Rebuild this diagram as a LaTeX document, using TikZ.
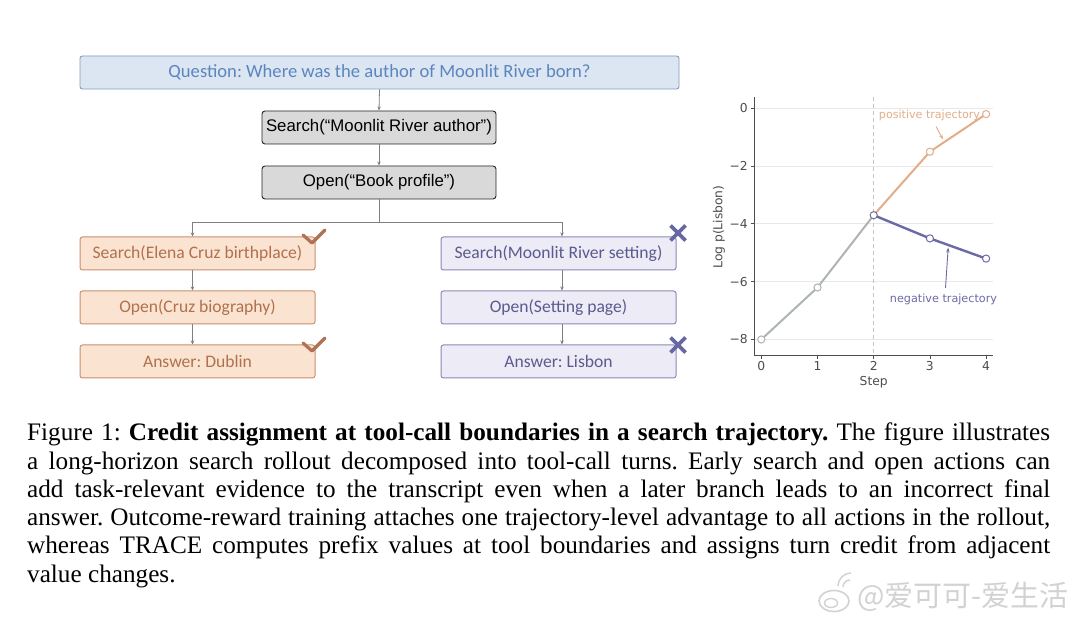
\documentclass[tikz,border=0pt]{standalone}
\usepackage{fontspec}
\setmainfont{Liberation Serif}
\newfontfamily\calib{Carlito}
\newfontfamily\arialf{Liberation Sans}
\newfontfamily\dejavu{DejaVu Sans}
\newfontfamily\cjkf{Noto Sans CJK SC}
\usetikzlibrary{arrows.meta}
\definecolor{qfill}{HTML}{DCE6F2}
\definecolor{qdraw}{HTML}{7F9CC0}
\definecolor{qtext}{HTML}{5B85BF}
\definecolor{gfill}{HTML}{D9D9D9}
\definecolor{gdraw}{HTML}{262626}
\definecolor{pfill}{HTML}{FBE3D2}
\definecolor{pdraw}{HTML}{C8906C}
\definecolor{ptext}{HTML}{B0714C}
\definecolor{lfill}{HTML}{ECEBF6}
\definecolor{ldraw}{HTML}{8C89B8}
\definecolor{ltext}{HTML}{5C5A8E}
\definecolor{agray}{HTML}{808080}
\definecolor{chk}{HTML}{AD7352}
\definecolor{xcol}{HTML}{6767A3}
\definecolor{cgray}{HTML}{AEB3B3}
\definecolor{corange}{HTML}{E2AD88}
\definecolor{cpurple}{HTML}{6C6AA6}
\definecolor{ctext}{HTML}{4D4D4D}
\definecolor{cgrid}{HTML}{E8E8E8}
\definecolor{wm}{HTML}{D2D2D2}
\tikzset{
  qbox/.style={draw=qdraw, fill=qfill, rounded corners=2.5pt, minimum width=599pt, minimum height=33pt, line width=0.9pt, text=qtext, font=\calib\fontsize{18.6}{20}\selectfont, inner sep=0pt},
  gbox/.style={draw=gdraw, fill=gfill, rounded corners=3pt, minimum width=234pt, minimum height=33pt, line width=0.9pt, font=\arialf\fontsize{16.8}{19}\selectfont, inner sep=0pt},
  pbox/.style={draw=pdraw, fill=pfill, rounded corners=2.5pt, minimum width=235pt, minimum height=33pt, line width=1pt, text=ptext, font=\calib\fontsize{17.6}{19}\selectfont, inner sep=0pt},
  lbox/.style={draw=ldraw, fill=lfill, rounded corners=2.5pt, minimum width=235pt, minimum height=33pt, line width=1pt, text=ltext, font=\calib\fontsize{17.6}{19}\selectfont, inner sep=0pt},
  conn/.style={draw=agray, line width=0.8pt, -{Stealth[length=4pt,width=3.5pt]}},
  checkm/.style={draw=chk, line width=3.2pt, line cap=round, line join=round},
  crossm/.style={draw=xcol, line width=3.6pt},
  tick/.style={font=\dejavu\fontsize{12.3}{14}\selectfont, text=ctext, inner sep=0pt},
  capline/.style={anchor=base west, inner sep=0pt, font=\fontsize{25.2}{28}\selectfont},
  mk/.style={fill=white, line width=1pt},
}
\begin{document}
\frenchspacing
\begin{tikzpicture}[x=1pt,y=-1pt]
\useasboundingbox (0,0) rectangle (1080,620);
\fill[white] (0,0) rectangle (1080,620);

% ---------- flow diagram ----------
\node[qbox] (q) at (379.5,72.5) {Question: Where was the author of Moonlit River born?};
\node[gbox] (s0) at (379,127.5) {Search(“Moonlit River author”)};
\node[gbox] (o0) at (379,182.5) {Open(“Book profile”)};

\node[pbox] (l1) at (197.5,253.5) {Search(Elena Cruz birthplace)};
\node[pbox] (l2) at (197.5,307.5) {Open(Cruz biography)};
\node[pbox] (l3) at (197.5,361.5) {Answer: Dublin};

\node[lbox] (r1) at (558.5,253.5) {Search(Moonlit River setting)};
\node[lbox] (r2) at (558.5,307.5) {Open(Setting page)};
\node[lbox] (r3) at (558.5,361.5) {Answer: Lisbon};

\draw[conn] (q.south) -- (s0.north);
\draw[conn] (s0.south) -- (o0.north);
\coordinate (br) at ([yshift=-23pt]o0.south);
\draw[draw=agray, line width=0.8pt] (o0.south) -- (br);
\draw[conn] (br) -| ([xshift=-5pt]l1.north);
\draw[conn] (br) -| ([xshift=3.5pt]r1.north);
\draw[conn] ([xshift=-5pt]l1.south) -- ([xshift=-5pt]l2.north);
\draw[conn] ([xshift=-5pt]l2.south) -- ([xshift=-5pt]l3.north);
\draw[conn] ([xshift=3.5pt]r1.south) -- ([xshift=3.5pt]r2.north);
\draw[conn] ([xshift=3.5pt]r2.south) -- ([xshift=3.5pt]r3.north);

% check marks
\draw[checkm] (303,235) -- (312,243) -- (325,230);
\draw[checkm] (303,343) -- (312,351) -- (325,338);
% crosses
\draw[crossm] (670.5,225.5) -- (685.5,240.5) (670.5,240.5) -- (685.5,225.5);
\draw[crossm] (670.5,337.5) -- (685.5,352.5) (670.5,352.5) -- (685.5,337.5);

% ---------- chart ----------
\foreach \yy in {108.3,166.1,223.9,281.7,339.5}
  \draw[cgrid, line width=0.8pt] (754.5,\yy) -- (992.5,\yy);
\draw[gray!45, dash pattern=on 4pt off 3pt, line width=0.8pt] (873.7,97) -- (873.7,355.5);
\draw[ctext, line width=0.9pt] (754.5,97) -- (754.5,355.5) -- (992.5,355.5);
\foreach \yy/\lab in {108.3/0,166.1/−2,223.9/−4,281.7/−6,339.5/−8}{
  \draw[ctext, line width=0.8pt] (751,\yy) -- (754.5,\yy);
  \node[tick, anchor=east] at (748,\yy) {\lab};
}
\foreach \xx/\lab in {761.3/0,817.5/1,873.7/2,929.9/3,986.1/4}{
  \draw[ctext, line width=0.8pt] (\xx,355.5) -- (\xx,359);
  \node[tick, anchor=north] at (\xx,361.5) {\lab};
}
\node[tick] (xl) at (873.7,382) {Step};
\node[tick, rotate=90] (yl) at (719,227) {Log p(Lisbon)};

\draw[cgray, line width=2pt] (761.3,339.5) -- (817.5,287.5) -- (873.7,215.2);
\draw[corange, line width=2pt] (873.7,215.2) -- (929.9,151.7) -- (986.1,114.1);
\draw[cpurple, line width=2.4pt] (873.7,215.2) -- (929.9,238.4) -- (986.1,258.6);
\draw[mk, draw=cgray] (761.3,339.5) circle (3.6pt);
\draw[mk, draw=cgray] (817.5,287.5) circle (3.6pt);
\draw[mk, draw=cpurple!70!gray] (873.7,215.2) circle (3.6pt);
\draw[mk, draw=corange] (929.9,151.7) circle (3.6pt);
\draw[mk, draw=corange] (986.1,114.1) circle (3.6pt);
\draw[mk, draw=cpurple] (929.9,238.4) circle (3.6pt);
\draw[mk, draw=cpurple] (986.1,258.6) circle (3.6pt);

\node[tick, text=corange, font=\dejavu\fontsize{11.1}{13}\selectfont] (pt) at (929.5,115.8) {positive trajectory};
\node[tick, text=cpurple, font=\dejavu\fontsize{11.2}{13}\selectfont] (nt) at (943.5,299) {negative trajectory};
\coordinate (pa) at (943,139.5);
\coordinate (na) at (948.2,247.5);
\draw[corange, line width=0.9pt, -{Stealth[length=5pt,width=3.5pt]}] (936,126.5) -- (pa);
\draw[cpurple, line width=0.9pt, -{Stealth[length=5pt,width=3.5pt]}] (945.5,288) -- (na);

% ---------- caption ----------
\node[capline] (c1) at (27,441) {\hbox to 1023pt{Figure 1: \textbf{Credit assignment at tool-call boundaries in a search trajectory.} The figure illustrates}};
\node[capline] (c2) at (27,469.2) {\hbox to 1023pt{a long-horizon search rollout decomposed into tool-call turns. Early search and open actions can}};
\node[capline] (c3) at (27,497.4) {\hbox to 1023pt{add task-relevant evidence to the transcript even when a later branch leads to an incorrect final}};
\node[capline] (c4) at (27,525.6) {\hbox to 1023pt{answer. Outcome-reward training attaches one trajectory-level advantage to all actions in the rollout,}};
\node[capline] (c5) at (27,553.8) {\hbox to 1023pt{whereas TRACE computes prefix values at tool boundaries and assigns turn credit from adjacent}};
\node[capline] (c6) at (27,582) {value changes.};

% ---------- watermark ----------
\draw[wm, line width=1.6pt] (834,601) ellipse (15pt and 10.5pt);
\draw[wm, line width=1.4pt] (831,603) ellipse (6.5pt and 4.5pt);
\draw[wm, line width=1.5pt] (843,587) arc (180:90:7pt);
\draw[wm, line width=1.5pt] (838,586) arc (180:90:13pt);
\node[anchor=west, inner sep=0pt, text=wm, font=\cjkf\fontsize{29}{31}\selectfont] (wmt) at (857,597) {@爱可可-爱生活};
\end{tikzpicture}
\end{document}
